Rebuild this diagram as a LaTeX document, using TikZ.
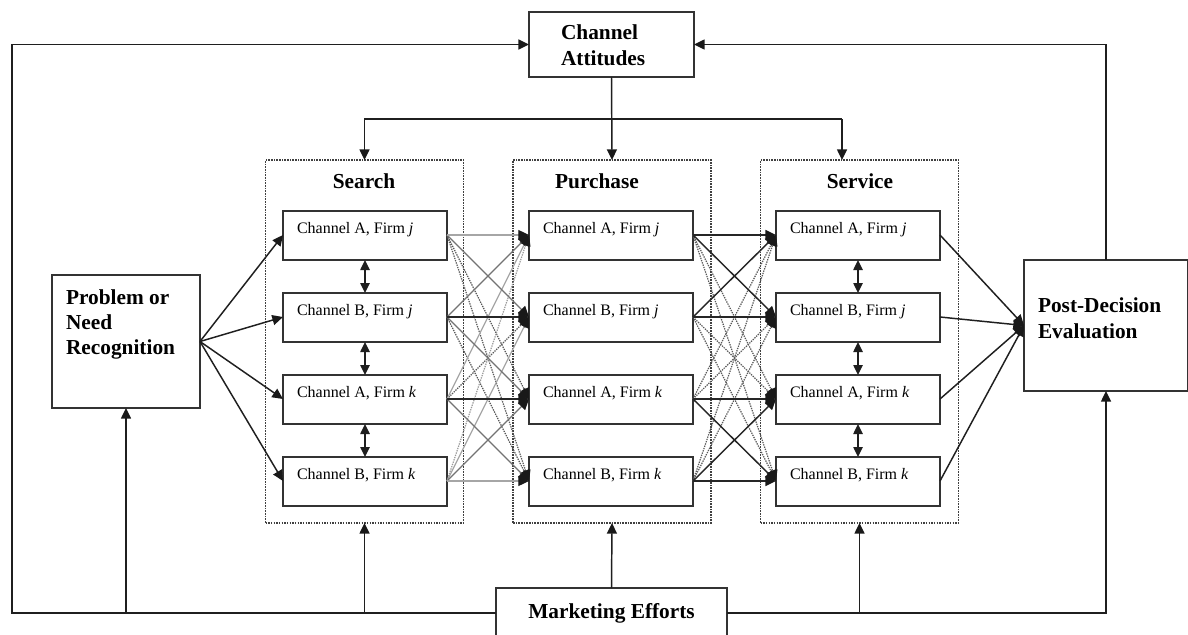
\documentclass[tikz,border=0pt]{standalone}
\usepackage{fontspec}
\setmainfont{Liberation Serif}
\usetikzlibrary{arrows.meta}

\begin{document}
\begin{tikzpicture}[x=0.75pt,y=-0.75pt,
  ink/.style={draw=black!88, line width=1.1pt},
  tip/.style={-{Triangle[length=8pt,width=7.5pt,color=black!90,fill=black!90]}},
  dtip/.style={{Triangle[length=7.5pt,width=7pt]}-{Triangle[length=7.5pt,width=7pt]}},
  chbox/.style={draw=black!80, line width=1.1pt, fill=white, anchor=north west,
    outer sep=0pt, inner xsep=10.5pt, inner ysep=0pt, text width=102pt, align=flush left,
    text height=16.5pt, text depth=20.25pt, font=\fontsize{12}{14}\selectfont},
  bigbox/.style={draw=black!80, line width=1.1pt, fill=white, anchor=north west,
    outer sep=0pt, inner ysep=0pt, align=flush left},
  grp/.style={draw=black!75, line width=0.8pt, dash pattern=on 1.2pt off 0.8pt,
    anchor=north west, outer sep=0pt, inner sep=0pt,
    minimum width=148.5pt, minimum height=272.25pt},
  ttl/.style={anchor=base, inner sep=0pt, font=\fontsize{16}{19}\selectfont\bfseries},
  lt/.style={draw=black!35, line width=0.9pt},
  md/.style={draw=black!55, line width=0.9pt},
  dk/.style={draw=black!85, line width=1.1pt},
  dt/.style={draw=black!65, line width=0.9pt, dash pattern=on 1pt off 0.8pt},
  ldt/.style={draw=black!40, line width=0.9pt, dash pattern=on 1pt off 0.8pt}
]
\clip (0,0) rectangle (1188,635);
\fill[white] (0,0) rectangle (1188,635);

% stage frames
\node[grp] (sg) at (265.5,160) {};
\node[grp] (pg) at (513,160) {};
\node[grp] (vg) at (760.5,160) {};

\node[ttl] (st) at (364,188) {Search};
\node[ttl] (pt) at (597,188) {Purchase};
\node[ttl] (vt) at (860,188) {Service};

% channel boxes in each stage
\foreach \i/\t/\c/\f in {1/211/A/j, 2/293/B/j, 3/375/A/k, 4/457/B/k} {
  \node[chbox] (s\i) at (283,\t) {Channel \c, Firm \textit{\f}};
  \node[chbox] (p\i) at (529,\t) {Channel \c, Firm \textit{\f}};
  \node[chbox] (v\i) at (776,\t) {Channel \c, Firm \textit{\f}};
}
\foreach \n in {s,p,v} {
  \foreach \i in {1,...,4} {
    \coordinate (\n\i i) at ([yshift=-1.5pt]\n\i.base west);
    \coordinate (\n\i o) at ([yshift=-1.5pt]\n\i.base east);
  }
}

% outer boxes
\node[bigbox, inner xsep=10.5pt, text width=90pt, text height=21.75pt, text depth=78pt,
  font=\fontsize{16}{18.75}\selectfont\bfseries] (prob) at (52,275)
  {Problem or\\Need\\Recognition};
\node[bigbox, inner xsep=24pt, text width=75.75pt, text height=21pt, text depth=27.75pt,
  font=\fontsize{16}{19.5}\selectfont\bfseries] (att) at (529,12)
  {Channel\\Attitudes};
\node[bigbox, inner xsep=10.5pt, text width=102pt, text height=39.5pt, text depth=58.75pt,
  font=\fontsize{16}{19.25}\selectfont\bfseries] (post) at (1024,260)
  {Post-Decision\\Evaluation};
\node[bigbox, inner xsep=10.5pt, text width=152.25pt, text height=22.5pt, text depth=15pt,
  align=flush center, font=\fontsize{16}{19}\selectfont\bfseries] (mkt) at (496,588)
  {Marketing Efforts};

% feedback loop and marketing effort links
\coordinate (cbl) at (12,613);
\coordinate (hy) at (0,119);
\coordinate (hr) at (842,119);
\draw[ink,tip] (mkt.west) -- (cbl) |- (att.west);
\draw[ink,tip] (post.north) |- (att.east);
\draw[ink,tip] (mkt.east) -| (post.south);
\draw[ink,tip] (prob.south |- mkt.west) -- (prob.south);
\draw[ink,tip] (sg.south |- mkt.west) -- (sg.south);
\draw[ink,tip] (vg.south |- mkt.west) -- (vg.south);
\draw[ink,tip] (mkt.north) -- (pg.south);

% attitudes to the three stages
\draw[ink,tip] (att.south) -- (pg.north);
\draw[ink,tip] (hr) -- (sg.north |- hy) -- (sg.north);
\draw[ink,tip] (hr) -- (hr |- vg.north);

% problem recognition to search channels
\foreach \i in {1,...,4} \draw[ink,tip] (prob.east) -- (s\i i);

% switching within search and service
\foreach \a/\b in {1/2,2/3,3/4} {
  \draw[ink,dtip] (s\a.south) -- (s\b.north);
  \draw[ink,dtip] (v\a.south) -- (v\b.north);
}

% search to purchase
\foreach \i/\j/\st in {1/3/dt, 1/4/dt, 2/4/dt, 3/2/dt, 4/1/ldt,
    3/1/lt, 4/2/lt, 1/2/md, 2/1/md, 2/3/md, 3/4/md, 4/3/md,
    1/1/lt, 4/4/lt, 2/2/dk, 3/3/dk}
  \draw[\st,tip] (s\i o) -- (p\j i);

% purchase to service
\foreach \i/\j/\st in {1/3/dt, 1/4/dt, 2/3/dt, 2/4/dt, 3/1/dt, 3/2/dt, 4/1/dt, 4/2/dt,
    1/2/dk, 2/1/dk, 3/4/dk, 4/3/dk, 1/1/dk, 2/2/dk, 3/3/dk, 4/4/dk}
  \draw[\st,tip] (p\i o) -- (v\j i);

% service to evaluation
\foreach \i in {1,...,4} \draw[ink,tip] (v\i o) -- (post.west);
\end{tikzpicture}
\end{document}
